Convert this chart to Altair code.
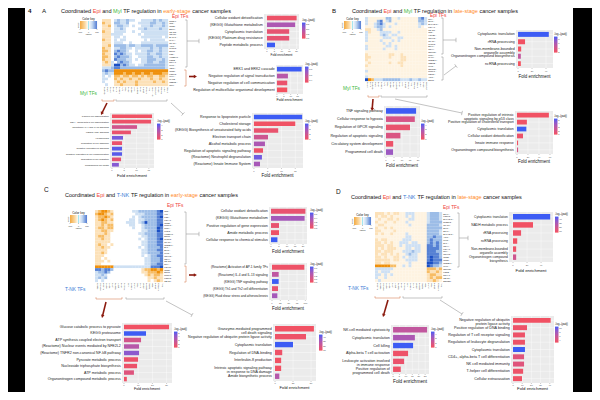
import math
import altair as alt
import pandas as pd

# ============================ DATA ============================
# ---- Panel A: Epi x Myl, early stage ----
A1_TERMS = ["Cellular oxidant detoxification", "(KEGG) Glutathione metabolism", "Cytoplasmic translation",
            "(KEGG) Platinum drug resistance", "Peptide metabolic process"]
A1_FOLD = [20.0, 19.0, 15.0, 15.0, 5.4]
A1_LOGP = [1.1, 1.9, 1.2, 1.2, 2.6]

A2_TERMS = ["ERK1 and ERK2 cascade", "Negative regulation of signal transduction",
            "Negative regulation of cell communication", "Regulation of multicellular organismal development"]
A2_FOLD = [18.0, 8.0, 7.5, 7.5]
A2_LOGP = [1.9, 1.6, 1.35, 1.3]

A3_TERMS = ["T-helper cell differentiation", "CD4+, alpha-beta T cell differentiation",
            "(Reactome) IL-4 and IL-13 signaling", "(KEGG) TNF signaling", "Hemopoiesis",
            "Regulation of cell adhesion", "Negative regulation of signaling",
            "Negative regulation of cell communication", "Regulation of cell migration", "Programmed cell death"]
A3_FOLD = [16.3, 15.9, 10.2, 7.7, 4.5, 4.1, 4.1, 4.1, 3.7, 2.8]
A3_LOGP = [1.1, 1.2, 2.0, 1.3, 3.7, 1.3, 4.0, 4.0, 1.4, 3.5]

A4_TERMS = ["Response to lipoprotein particle", "Cholesterol storage",
            "(KEGG) Biosynthesis of unsaturated fatty acids", "Electron transport chain",
            "Alcohol metabolic process", "Regulation of apoptotic signaling pathway",
            "(Reactome) Neutrophil degranulation", "(Reactome) Innate Immune System"]
A4_FOLD = [17.5, 15.0, 8.8, 5.1, 4.0, 3.3, 2.9, 2.2]
A4_LOGP = [4.0, 1.1, 1.3, 2.0, 2.7, 1.2, 3.6, 2.8]

# ---- Panel B: Epi x Myl, late stage ----
B1_TERMS = ["Cytoplasmic translation", "rRNA processing", "Non-membrane-bounded\norganelle assembly",
            "Organonitrogen compound biosynthesis", "ncRNA processing"]
B1_FOLD = [44.0, 10.0, 4.5, 4.0, 4.0]
B1_LOGP = [9.0, 2.2, 2.1, 5.0, 2.0]

B2_TERMS = ["TNF signaling pathway", "Cellular response to hypoxia", "Regulation of GPCR signaling",
            "Regulation of apoptotic signaling", "Circulatory system development", "Programmed cell death"]
B2_FOLD = [18.8, 18.0, 15.0, 9.0, 4.5, 4.4]
B2_LOGP = [4.0, 1.8, 1.3, 1.7, 1.2, 3.0]

B3_TERMS = ["Positive regulation of intrinsic\napoptotic signaling by p53 class",
            "Positive regulation of cholesterol transport", "Cytoplasmic translation",
            "Cellular oxidant detoxification", "Innate immune response", "Organonitrogen compound biosynthesis"]
B3_FOLD = [58.0, 18.0, 17.0, 11.0, 2.0, 2.0]
B3_LOGP = [1.1, 1.2, 5.0, 1.3, 1.1, 2.0]

# ---- Panel C: Epi x T-NK, early stage ----
C1_TERMS = ["Cellular oxidant detoxification", "(KEGG) Glutathione metabolism",
            "Positive regulation of gene expression", "Amide metabolic process",
            "Cellular response to chemical stimulus"]
C1_FOLD = [21.5, 21.0, 5.0, 5.0, 4.0]
C1_LOGP = [0.9, 1.35, 0.9, 0.85, 1.7]

C2_TERMS = ["(Reactome) Activation of AP-1 family TFs", "(Reactome) IL-4 and IL-13 signaling",
            "(KEGG) TNF signaling pathway", "(KEGG) Th1 and Th2 cell differentiation",
            "(KEGG) Fluid shear stress and atherosclerosis"]
C2_FOLD = [97.0, 20.0, 20.0, 18.0, 16.0]
C2_LOGP = [0.85, 1.2, 1.7, 0.9, 1.35]

C3_TERMS = ["Glucose catabolic process to pyruvate", "KEGG proteasome",
            "ATP synthesis coupled electron transport", "(Reactome) Nuclear events mediated by NFE2L2",
            "(Reactome) TNFR2 non-canonical NF-kB pathway", "Pyruvate metabolic process",
            "Nucleoside triphosphate biosynthesis", "ATP metabolic process",
            "Organonitrogen compound metabolic process"]
C3_FOLD = [31.7, 15.5, 12.0, 10.6, 10.6, 9.9, 9.2, 7.0, 2.0]
C3_LOGP = [1.1, 5.0, 2.2, 3.0, 4.0, 1.3, 1.3, 1.8, 1.2]

C4_TERMS = ["Granzyme-mediated programmed\ncell death signaling",
            "Negative regulation of ubiquitin protein ligase activity", "Cytoplasmic translation",
            "Regulation of DNA-binding", "Interleukin-8 production",
            "Intrinsic apoptotic signaling pathway\nin response to DNA damage", "Amide biosynthetic process"]
C4_FOLD = [54.0, 43.0, 25.0, 10.0, 8.5, 8.5, 6.0]
C4_LOGP = [11.0, 12.0, 45.0, 12.0, 11.0, 11.0, 28.0]

# ---- Panel D: Epi x T-NK, late stage ----
D1_TERMS = ["Cytoplasmic translation", "NADH metabolic process", "rRNA processing", "ncRNA processing",
            "Non-membrane-bounded\norganelle assembly", "Organonitrogen compound\nbiosynthesis"]
D1_FOLD = [53.0, 28.5, 11.5, 6.0, 4.5, 4.5]
D1_LOGP = [45.0, 6.0, 7.0, 6.0, 7.0, 18.0]

D2_TERMS = ["NK cell mediated cytotoxicity", "Cytoplasmic translation", "Cell killing",
            "Alpha-beta T cell activation", "Leukocyte activation involved\nin immune response",
            "Positive regulation of\nprogrammed cell death"]
D2_FOLD = [26.5, 17.0, 15.6, 11.7, 8.6, 6.0]
D2_LOGP = [2.5, 3.0, 4.5, 1.2, 1.3, 1.2]

D3_TERMS = ["Negative regulation of ubiquitin\nprotein ligase activity", "Positive regulation of DNA binding",
            "Regulation of T cell receptor signaling", "Regulation of leukocyte degranulation",
            "Cytoplasmic translation", "CD4+, alpha-beta T cell differentiation", "NK cell mediated immunity",
            "T-helper cell differentiation", "Cellular extravasation"]
D3_FOLD = [41.0, 15.2, 13.0, 13.0, 13.0, 12.0, 12.0, 11.0, 9.8]
D3_LOGP = [2.7, 3.0, 3.0, 3.0, 10.5, 4.0, 4.0, 3.0, 2.8]

# ---- heatmaps (one character per cell; see HEAT_LEVEL) ----
HEAT_LEVEL = {"O": -95, "o": -55, "c": -24, ",": -10, ".": 0, "l": 28, "b": 52, "B": 78, "D": 100}
KEY_TICKS = [-100, 0, 100]

A_ROWS = ["NR2F6", "JUN", "JUNB", "BCL3", "TEAD2", "SOX30", "BACH1", "MAFA", "STAT1", "ATF3", "TFCP2",
          "EGR1", "FOS", "HMBOX1", "FOSB", "NR4A1", "KLF6", "XBP1", "JUND", "FOSL2", "KLF4", "MAFB",
          "CEBPD", "IRF1"]
A_COLS = ["CEBPB", "SPI1", "MAFB", "IRF8", "KLF4", "NR4A1", "JUN", "FOS", "ATF3", "EGR1", "MAF", "CEBPA",
          "IRF5", "STAT1", "NFKB1", "REL", "BHLHE40", "ZNF331", "ETV5", "PPARG", "MITF", "TFEC"]
A_CELLS = [
    "ccc.lbllbll..llllblbll", "occ.bbllb...llllbbllbl", "cco.lbbll.l..lllblllbl", "ccc.llbl....llbllllbll",
    "occ.llll..l..lllllllll", "cccllll.....l.llllllll", "ccc.ll.l.....lllllll.l", "occ.l.ll......l.lllll.",
    "ccc.lll..l...lllllllll", "cco.bbbblbbllbbbblbbbb", "occ.llbbll.lllllbllbll", "ooc.bBbbl..l.llbbllbll",
    "occ.BbBbll.llllbllbbll", "ooc.bBbbbl..lllbbllbll", "occ.Bbbbll.l.llbbbllbl", "cocl.bBbbl...llbbllbbl",
    "ccclDDbBbll.llbbbbbbbl", "lllbBBbbbbbbbbbbbbbbbl", "bBbbOOOOOOOOOOOOOOOOOO", "lbllOOOoOOoOOoOOoOOOoo",
    "l.l.oocoocoococooccooc", "ll..ococcoccocccoccocc", "l...cococccocccccoccoc", ".l..ccoccccocccccccccc",
]

B_ROWS = ["NFIA", "ELF3", "BHLHE40", "FOXA1", "TEAD1", "JUN", "HOXB7", "GRHL2", "STAT1", "TFCP2", "ETV6",
          "SOX4", "ZNF331", "PURA", "MAFF", "SREBF1", "CEBPB", "KLF5", "ZNF275", "RUNX1", "MEIS1", "ATF3",
          "EGR1"]
B_COLS = ["MAFB", "KLF4", "CEBPB", "SPI1", "IRF8", "NR4A1", "JUN", "FOS", "EGR1", "ATF3", "CEBPD", "IRF5",
          "MAF", "STAT1", "NFKB1", "REL", "PPARG", "TFEC", "MITF", "ETV5", "ZNF331"]
B_CELLS = [
    "l,,,,,,bb,,l,,,,,,bBl", "l,,,bB,lb,,,,,,,,,bbl", "l,,lbBl,,,l,,,,,,,lbl", ",,,lbbl,l,,,,,,,,,l,",
    "cc,,lb,,,,,,,,,,,,,,,", "lc,,,llll,,l,,,,,,,,,", "l,,,,lbl,ll,,,,,,,,,,", "l,,,,,lll,,ll,,,,,,,,",
    "l,,,,l,,,l,l,,,,,,,,,", ",,,,,,l,l,,,,,,,,,,,,", "l,,,,,,ll,l,,,,,,,,,,", "l,,,,,l,,,l,,,,,,,,,,",
    ",,,,,,,,,,,,,,,,,,,,,", "c,,,,,,,cc,,c,,,,,,,,", "cc,,,,,,c,,,cc,,,,,,,", "c,,,,,,,,,,,cc,,,,,,,",
    ",c,,,,,,c,,cc,,,,,,,,", "c,,,,,,,,,,,c,,,,,,,,", ",,,,,,,,,,,,,,,,,,,,,", "l,,,,,,,,,,,,,,,,,,,,",
    ",,,,,,,,,,,,,,,,,,,,,", "l,,,,,,,,,,,,,,,,,,,,", "DOolllbbbbbblllbllbll",
]

C_ROWS = ["JUN", "HLF", "FOS", "FOXA1", "JUNB", "RUNX3", "PURA", "IKZF2", "HMBOX1", "EGR1", "TFCP2",
          "STAT6", "SREBF1", "BX1", "ELF3", "KLF5", "GRHL2", "SOX4", "TEAD1", "NFIA", "FOXP1", "JUND",
          "EGR1", "RUNX3", "FOSL2", "TBX21"]
C_COLS = ["TBX21", "EOMES", "RUNX3", "IKZF2", "TCF7", "LEF1", "FOXP3", "BATF", "IRF4", "PRDM1", "ID2",
          "NR4A2", "JUNB", "FOS", "KLF2", "ZEB2", "GATA3", "RORC", "TOX", "STAT4", "NFATC1", "REL"]
C_CELLS = [
    "coOOoc......llbbbbbbBD", "oOOoco.......lllbbbbBB", "cooOoc......l.lbbbbbBD", "coOoco.....ll.llbbbbBB",
    "ccoocc....lll.lbDbbbBB", "ccocoo.....ll..lbbbbBD", "coocoo......l..lbbbbDB", "ccoocc.........llbbbDB",
    "cccoc.........llbbbbBB", "coocc..........llbbbBB", "ccocc.........l.lbbbBD", "ccccc..........llbbbBB",
    "cocc.c.........llbbbBB", "ccocc.........l.lbbbbB", "cccc...........llbbbBB", "ccoc...........llbbbbB",
    "ccc............l.lbbBB", "cc.c............llbbbB", "ccc.c...........llbbbB", "cc..............llbbBB",
    "OOOOOOllllllllllllBBBD", "BBbBBb.........cooOOoO", "lbbBb..........ccoooOo", "llbl............cocooc",
    "lblb.............ccocc", "l.l..............c.coc",
]

D_ROWS = ["ETV6", "FOSL2", "BHLHE40", "NFE2L2", "STAT3", "ELF3", "ETV1", "BHLHE41", "ATF3", "KLF5", "EHF",
          "SOX4", "FOXA1", "NFIA", "GRHL2", "JUNB", "JUND", "SREBF1", "KLF6", "ZNF683", "FOSB", "NR4A1",
          "TBX21", "EOMES"]
D_COLS = ["RUNX3", "TBX21", "EOMES", "IKZF2", "TCF7", "LEF1", "BATF", "FOXP3", "IRF4", "PRDM1", "ID2",
          "NR4A2", "KLF2", "ZEB2", "GATA3", "RORC", "TOX", "JUNB", "FOS", "STAT4", "NFATC1", "REL"]
D_CELLS = [
    "ccc,c,cc,,lll,,,,lbbbl", "c,cc,c,,,,l,l,,,,lbbbl", ",c,,cc,c,,,ll,,,,lbbbl", "c,,c,,c,,,l,,,,,,lbbbb",
    ",cc,,,,,,,,l,,,,,bbbbl", "c,,c,c,,,,,,,,,,,bbbbb", "cc,,,,c,,,,,,,,,,bbbbl", "c,c,,c,,,,l,,,,,,bbbbl",
    ",,,,,,,,,,ll,,,,,bbBbb", "c,cc,,,,,lll,,,,,bBbbb", "cc,c,c,,lll,ll,,,bBbBb", "ccc,cc,,l,lllll,,BBbBb",
    "c,c,ccc,,,ll,ll,,BBBBb", "cc,ccc,,,lllbll,,BBBbb", "c,cc,c,c,,lbll,,,BBBBb", "cc,c,,cc,l,lll,,,BDBBb",
    "ccccc,cc,,llll,,,BDBBB", "cc,cc,,,,,,l,,,,,DDBBb", "OOOOOoo,,l,l,,,,,DBbbl", "llllll,,,,,,,,,,,oooco",
    "l,lll,,,,,,,,,,,,occoc", "ll,l,l,,,,,,,,,,,coocc", "l,,l,,,,,,,,,,,,,cocoo", ",l,,,,,,,,,,,,,,,ccoc,",
]

# ============================ STYLE / LAYOUT ============================
FONT = "Liberation Sans"
OFF = 8
BAR_RED, BAR_BLUE = "#F4515F", "#3D5CF4"
HEAT_DOMAIN = [-100, -45, 0, 45, 100]
HEAT_RANGE = ["#EE8B00", "#F9C77A", "#FFFFFF", "#B0CDEC", "#1A4FC4"]
T_RED, T_GREEN, T_BLUE, T_ORANGE = "#F0443A", "#3DB83D", "#3A7BD5", "#FF8A1F"
GRAY, ORNG, DARKRED = "#9A9A9A", "#D9835A", "#8B1A0E"

AW = {" ": 278, "!": 278, "(": 333, ")": 333, "+": 584, ",": 278, "-": 333, ".": 278, "/": 278, ":": 278,
      "A": 667, "B": 667, "C": 722, "D": 722, "E": 667, "F": 611, "G": 778, "H": 722, "I": 278, "J": 500,
      "K": 667, "L": 556, "M": 833, "N": 722, "O": 778, "P": 667, "Q": 778, "R": 722, "S": 667, "T": 611,
      "U": 722, "V": 667, "W": 944, "X": 667, "Y": 667, "Z": 611, "a": 556, "b": 556, "c": 500, "d": 556,
      "e": 556, "f": 278, "g": 556, "h": 556, "i": 222, "j": 222, "k": 500, "l": 222, "m": 833, "n": 556,
      "o": 556, "p": 556, "q": 556, "r": 333, "s": 500, "t": 278, "u": 556, "v": 500, "w": 722, "x": 500,
      "y": 500, "z": 500}


def tw(s, fs):
    return sum(AW.get(ch, 556) for ch in s) * fs / 1000.0


def P(v):
    return v - OFF


def lin(lo, hi, a, b):
    return alt.Scale(domain=[lo, hi], range=[P(a), P(b)], nice=False, zero=False)


def heat_scale():
    return alt.Scale(domain=HEAT_DOMAIN, range=HEAT_RANGE, interpolate="rgb")


layers = []


def text(X, Y, s, fs, color="#111111", align="left", weight="normal", angle=0):
    d = pd.DataFrame({"t": [s]})
    return alt.Chart(d).mark_text(align=align, baseline="middle", fontSize=fs, color=color,
                                  fontWeight=weight, font=FONT, angle=angle).encode(
        x=alt.value(P(X)), y=alt.value(P(Y)), text="t:N")


def rich(X, Y, segs, width):
    full = "".join(s for s, _ in segs)
    fs = width / tw(full, 1.0)
    cur = X
    for s, col in segs:
        lead = len(s) - len(s.lstrip(" "))
        layers.append(text(cur + tw(s[:lead], fs), Y, s.strip(), fs, col))
        cur += tw(s, fs)


def bar_panel(terms, fold, logp, box, xdom, ticks, cdom, leg, ref, fe_w, tick_y, fe_y):
    X0, X1, Y0, Y1 = box
    lo, hi = xdom
    n = len(terms)
    xs = lin(lo, hi, X0, X1)
    ys = lin(-0.6, n - 0.4, Y0, Y1)
    upp = n / float(Y1 - Y0)
    fs = ref[1] / tw(ref[0], 1.0)

    def X(f):
        return alt.X(f, scale=xs, axis=None)

    def Y(f):
        return alt.Y(f, scale=ys, axis=None)

    d = pd.DataFrame({"term": terms, "fold": fold, "logp": logp})
    d["i"] = list(range(n))
    d["z"] = 0.0
    d["b0"] = d["i"] - 0.34
    d["b1"] = d["i"] + 0.34
    d["xl"] = lo
    d["xh"] = hi
    bg = pd.DataFrame({"xl": [lo], "xh": [hi], "ya": [-0.6], "yb": [n - 0.4]})
    td = pd.DataFrame({"t": ticks, "lab": [str(t) for t in ticks]})
    td["ya"] = -0.6
    td["yb"] = n - 0.4
    td["yc"] = n - 0.4 + 0.9 * upp
    td["yl"] = n - 0.4 + (tick_y - Y1) * upp
    at = pd.DataFrame({"x": [(lo + hi) / 2.0], "y": [n - 0.4 + (fe_y - Y1) * upp], "t": ["Fold enrichment"]})
    fe_fs = fe_w / tw("Fold enrichment", 1.0)

    layers.append(alt.Chart(bg).mark_rect(color="#EBEBEB").encode(
        x=X("xl:Q"), x2="xh:Q", y=Y("ya:Q"), y2="yb:Q"))
    layers.append(alt.Chart(td).mark_rule(color="white", strokeWidth=0.4).encode(
        x=X("t:Q"), y=Y("ya:Q"), y2="yb:Q"))
    layers.append(alt.Chart(d).mark_rule(color="white", strokeWidth=0.4).encode(
        x=X("xl:Q"), x2="xh:Q", y=Y("i:Q")))
    layers.append(alt.Chart(d).mark_rect().encode(
        x=X("z:Q"), x2="fold:Q", y=Y("b0:Q"), y2="b1:Q",
        color=alt.Color("logp:Q",
                        scale=alt.Scale(domain=cdom, range=[BAR_RED, BAR_BLUE], interpolate="lab"),
                        legend=alt.Legend(type="gradient", orient="none", legendX=P(leg[0]), legendY=P(leg[1]),
                                          title="-log\u2081\u2080(padj)", titleFontSize=2.6,
                                          titleFontWeight="normal", titleFont=FONT, titlePadding=1,
                                          titleColor="#111111", labelFontSize=2.2, labelFont=FONT,
                                          labelOffset=0.8, labelColor="#333333", gradientLength=16,
                                          gradientThickness=3.5, direction="vertical", padding=0,
                                          tickCount=4, gradientStrokeWidth=0))))
    layers.append(alt.Chart(d).mark_text(align="right", baseline="middle", dx=-1.2, fontSize=fs,
                                         lineBreak="\n", lineHeight=fs * 1.1, font=FONT,
                                         color="#222222").encode(
        x=X("xl:Q"), y=Y("i:Q"), text="term:N"))
    layers.append(alt.Chart(td).mark_rule(color="#333333", strokeWidth=0.3).encode(
        x=X("t:Q"), y=Y("yb:Q"), y2="yc:Q"))
    layers.append(alt.Chart(td).mark_text(baseline="middle", fontSize=2.3, font=FONT,
                                          color="#4D4D4D").encode(
        x=X("t:Q"), y=Y("yl:Q"), text="lab:N"))
    layers.append(alt.Chart(at).mark_text(baseline="middle", fontSize=fe_fs, font=FONT,
                                          color="#111111").encode(
        x=X("x:Q"), y=Y("y:Q"), text="t:N"))


def color_key(kx, ky):
    """Colour key of a heatmap: a strip coloured through the heatmap's own colour scale."""
    steps = list(range(-100, 100, 4))
    d = pd.DataFrame({"a": steps, "b": [s + 4.4 for s in steps], "v": [s + 2 for s in steps]})
    d["y0"] = 0.0
    d["y1"] = 1.0
    xs = lin(-100, 100, kx, kx + 17)
    ys = lin(0, 1, ky, ky + 8)
    layers.append(alt.Chart(d).mark_rect().encode(
        x=alt.X("a:Q", scale=xs, axis=None), x2="b:Q", y=alt.Y("y0:Q", scale=ys, axis=None), y2="y1:Q",
        color=alt.Color("v:Q", scale=heat_scale(), legend=None)))
    cy = pd.DataFrame({"x": [0.0], "y0": [0.0], "y1": [1.0]})
    layers.append(alt.Chart(cy).mark_rule(color="#20C8E0", strokeWidth=0.4).encode(
        x=alt.X("x:Q", scale=xs, axis=None), y=alt.Y("y0:Q", scale=ys, axis=None), y2="y1:Q"))
    kt = pd.DataFrame({"t": KEY_TICKS, "lab": [str(t) for t in KEY_TICKS]})
    kt["y"] = 1.0
    kt["y2"] = 1.0 + 1.0 / 8
    kt["yl"] = 1.0 + 2.6 / 8
    layers.append(alt.Chart(kt).mark_rule(color="#333333", strokeWidth=0.3).encode(
        x=alt.X("t:Q", scale=xs, axis=None), y=alt.Y("y:Q", scale=ys, axis=None), y2="y2:Q"))
    layers.append(alt.Chart(kt).mark_text(baseline="middle", fontSize=2.2, font=FONT, color="#333333").encode(
        x=alt.X("t:Q", scale=xs, axis=None), y=alt.Y("yl:Q", scale=ys, axis=None), text="lab:N"))
    layers.append(text(kx + 8.5, ky - 2.2, "Color key", 3.0, align="center"))
    layers.append(text(kx - 2.5, ky + 4, "Count", 2.2, angle=270, align="center"))
    layers.append(text(kx + 8.5, ky + 13.5, "Value", 2.5, align="center"))


def heatmap(cells, rlabels, clabels, box, key, fs=2.1):
    X0, X1, Y0, Y1 = box
    nr, nc = len(rlabels), len(clabels)
    recs = []
    for r, row in enumerate(cells[:nr]):
        row = (row + "." * nc)[:nc]
        for c, ch in enumerate(row):
            recs.append({"c": c, "c2": c + 1.04, "r": r, "r2": r + 1.04, "v": HEAT_LEVEL[ch]})
    xs = lin(0, nc, X0, X1)
    ys = lin(0, nr, Y0, Y1)
    layers.append(alt.Chart(pd.DataFrame(recs)).mark_rect().encode(
        x=alt.X("c:Q", scale=xs, axis=None), x2="c2:Q",
        y=alt.Y("r:Q", scale=ys, axis=None), y2="r2:Q",
        color=alt.Color("v:Q", scale=heat_scale(), legend=None)))
    rl = pd.DataFrame({"t": [s + " -" for s in rlabels], "y": [r + 0.5 for r in range(nr)], "x": [nc] * nr})
    layers.append(alt.Chart(rl).mark_text(align="left", baseline="middle", dx=1.2, fontSize=fs,
                                          font=FONT, color="#222222").encode(
        x=alt.X("x:Q", scale=xs, axis=None), y=alt.Y("y:Q", scale=ys, axis=None), text="t:N"))
    cl = pd.DataFrame({"t": clabels, "x": [c + 0.5 for c in range(nc)], "y": [nr] * nc})
    layers.append(alt.Chart(cl).mark_text(align="right", baseline="middle", dx=-1.2, angle=270,
                                          fontSize=fs, font=FONT, color="#222222").encode(
        x=alt.X("x:Q", scale=xs, axis=None), y=alt.Y("y:Q", scale=ys, axis=None), text="t:N"))
    color_key(*key)


# ---------------- decorations (brackets, connectors, arrows) ----------------
SEGS, TRIS = [], []


def bracket_v(x, y1, y2, col):
    SEGS.extend([(x, y1, x, y2, col, 0.6), (x - 1.8, y1, x, y1, col, 0.6), (x - 1.8, y2, x, y2, col, 0.6)])


def bracket_h(x1, x2, y, col):
    SEGS.extend([(x1, y, x2, y, col, 0.6), (x1, y - 1.8, x1, y, col, 0.6), (x2, y - 1.8, x2, y, col, 0.6)])


def tline(x1, y1, x2, y2):
    dx, dy = x2 - x1, y2 - y1
    L = math.hypot(dx, dy)
    px_, py_ = -dy / L, dx / L
    SEGS.append((x1, y1, x2, y2, GRAY, 0.6))
    SEGS.append((x2 + px_ * 2.2, y2 + py_ * 2.2, x2 - px_ * 2.2, y2 - py_ * 2.2, GRAY, 0.6))


def arrow(x1, y1, x2, y2):
    dx, dy = x2 - x1, y2 - y1
    L = math.hypot(dx, dy)
    ux, uy = dx / L, dy / L
    SEGS.append((x1, y1, x2 - ux * 2.5, y2 - uy * 2.5, DARKRED, 1.6))
    TRIS.append((x2 - ux * 1.6, y2 - uy * 1.6, math.degrees(math.atan2(dx, -dy)) % 360, DARKRED, 13))


# A
bracket_v(187, 20, 67, GRAY); tline(187, 41, 199, 41)
bracket_v(186, 70, 86, ORNG); arrow(189, 76.5, 197, 76.5)
bracket_h(102, 114, 101, ORNG); bracket_h(116, 167, 101, GRAY)
arrow(107, 103, 101, 115); tline(171, 103, 183, 114)
# B
bracket_v(443, 18, 54, GRAY); tline(443, 40, 456, 40)
bracket_v(443, 57, 80, GRAY); tline(444, 75, 456, 66)
bracket_h(368, 379, 97, ORNG); bracket_h(381, 427, 97, GRAY)
arrow(373, 99, 372, 111); tline(395, 99, 462, 113)
# C
bracket_v(186, 212, 264, GRAY); tline(186, 234, 199, 234)
bracket_v(186, 266, 282, ORNG); arrow(189, 275, 197, 275)
bracket_h(96, 122, 299, ORNG); bracket_h(126, 164, 299, GRAY)
arrow(106, 302, 102, 318); tline(166, 301, 192, 315)
# D
bracket_v(459, 213, 267, GRAY); tline(459, 238, 468, 238)
bracket_h(375, 400, 298, ORNG); bracket_h(403, 442, 298, GRAY)
arrow(388, 300, 383, 317); tline(440, 300, 462, 314)

# black side strips of the page scan
blk = pd.DataFrame({"x": [P(8), P(573)], "x2": [P(25), P(592)], "y": [P(8), P(8)], "y2": [P(392), P(392)]})
layers.append(alt.Chart(blk).mark_rect(color="black").encode(
    x=alt.X("x:Q", scale=None, axis=None), x2="x2:Q", y=alt.Y("y:Q", scale=None, axis=None), y2="y2:Q"))

# ---------------- titles ----------------
TOP_Y = 11.2
layers.append(text(28, TOP_Y, "4", 6.2, weight="bold"))
layers.append(text(42, TOP_Y, "A", 6.2))
rich(61, TOP_Y, [("Coordinated ", "#111111"), ("Epi", T_RED), (" and ", "#111111"), ("Myl", T_GREEN),
                 (" TF regulation in ", "#111111"), ("early-stage", T_ORANGE), (" cancer samples", "#111111")], 170)
layers.append(text(332, TOP_Y, "B", 6.2))
rich(352, TOP_Y, [("Coordinated ", "#111111"), ("Epi", T_RED), (" and ", "#111111"), ("Myl", T_GREEN),
                  (" TF regulation in ", "#111111"), ("late-stage", T_ORANGE), (" cancer samples", "#111111")], 166)
layers.append(text(44, 190, "C", 6.5))
rich(65, 194.5, [("Coordinated ", "#111111"), ("Epi", T_RED), (" and ", "#111111"), ("T-NK", T_BLUE),
                 (" TF regulation in ", "#111111"), ("early-stage", T_ORANGE), (" cancer samples", "#111111")], 173)
layers.append(text(336, 192, "D", 6.5))
rich(351, 197, [("Coordinated ", "#111111"), ("Epi", T_RED), (" and ", "#111111"), ("T-NK", T_BLUE),
                (" TF regulation in ", "#111111"), ("late-stage", T_ORANGE), (" cancer samples", "#111111")], 171)

for (x, y, s, c) in [(172, 16.5, "Epi TFs", T_RED), (80, 94, "Myl TFs", T_GREEN),
                     (430, 16, "Epi TFs", T_RED), (343, 89, "Myl TFs", T_GREEN),
                     (167, 206, "Epi TFs", T_RED), (65, 290, "T-NK TFs", T_BLUE),
                     (443, 208, "Epi TFs", T_RED), (348, 289, "T-NK TFs", T_BLUE)]:
    layers.append(text(x, y, s, 4.8, c))

# ---------------- heatmaps ----------------
heatmap(A_CELLS, A_ROWS, A_COLS, (102, 168, 19, 86), (80, 21))
heatmap(B_CELLS, B_ROWS, B_COLS, (365, 427, 17, 81), (344, 21))
heatmap(C_CELLS, C_ROWS, C_COLS, (95, 163, 210, 282), (70, 215))
heatmap(D_CELLS, D_ROWS, D_COLS, (375, 442, 212, 282), (354, 217))

# ---------------- enrichment bar charts ----------------
bar_panel(A1_TERMS, A1_FOLD, A1_LOGP, (264, 299, 14, 49), (-2.0, 21.6), [0, 5, 10, 15, 20], [1.0, 2.6],
          (302, 19), ("Cellular oxidant detoxification", 48), 22, 51.5, 55.5)
bar_panel(A2_TERMS, A2_FOLD, A2_LOGP, (276, 303, 65, 94), (-0.7, 19.0), [0, 5, 10, 15], [1.3, 1.9],
          (305, 63), ("Regulation of multicellular organismal development", 82), 26, 96.5, 100.5)
bar_panel(A3_TERMS, A3_FOLD, A3_LOGP, (110, 154, 113, 168), (-0.8, 17.1), [0, 5, 10, 15], [1.0, 4.2],
          (157, 120), ("Negative regulation of cell communication", 43), 30, 170.5, 176)
bar_panel(A4_TERMS, A4_FOLD, A4_LOGP, (252, 303, 113, 168), (-0.7, 17.8), [0, 5, 10, 15], [1.0, 4.0],
          (305, 120), ("(KEGG) Biosynthesis of unsaturated fatty acids", 76), 32, 171, 176)
bar_panel(B1_TERMS, B1_FOLD, B1_LOGP, (516, 553, 30, 68), (-2.9, 50.0), [0, 20, 40], [2.0, 9.0],
          (554, 33), ("Organonitrogen compound biosynthesis", 64), 32, 71, 77)
bar_panel(B2_TERMS, B2_FOLD, B2_LOGP, (384, 420, 106, 157), (-1.25, 21.25), [0, 5, 10, 15, 20], [1.0, 4.0],
          (421, 120), ("Cellular response to hypoxia", 46), 32, 160, 166)
bar_panel(B3_TERMS, B3_FOLD, B3_LOGP, (515, 553, 111, 154), (-3.6, 65.5), [0, 20, 40, 60], [1.0, 5.0],
          (554, 115), ("Positive regulation of cholesterol transport", 66), 32, 157, 162.5)
bar_panel(C1_TERMS, C1_FOLD, C1_LOGP, (269, 307, 207, 244), (-1.25, 22.5), [0, 5, 10, 15, 20], [0.8, 1.7],
          (310, 209), ("Cellular response to chemical stimulus", 62), 32, 246.5, 252)
bar_panel(C2_TERMS, C2_FOLD, C2_LOGP, (269, 307, 263, 300), (-9.0, 105.0), [0, 25, 50, 75, 100], [0.8, 1.7],
          (310, 263), ("(KEGG) Fluid shear stress and atherosclerosis", 65), 32, 303, 309)
bar_panel(C3_TERMS, C3_FOLD, C3_LOGP, (122, 172, 323, 383), (-1.4, 33.8), [0, 10, 20, 30], [1.0, 5.0],
          (174, 328), ("(Reactome) TNFR2 non-canonical NF-kB pathway", 81), 26, 385.5, 389.5)
bar_panel(C4_TERMS, C4_FOLD, C4_LOGP, (273, 316, 324, 381), (-2.8, 56.9), [0, 25, 50], [10.0, 45.0],
          (319, 331), ("Negative regulation of ubiquitin protein ligase activity", 84), 30, 383.5, 388.5)
bar_panel(D1_TERMS, D1_FOLD, D1_LOGP, (509, 553, 212, 262), (-5.7, 57.0), [0, 20, 40], [5.0, 45.0],
          (555, 213), ("Organonitrogen compound", 39), 31, 265, 271)
bar_panel(D2_TERMS, D2_FOLD, D2_LOGP, (391, 429, 325, 374), (-1.6, 28.0), [0, 5, 10, 15, 20, 25], [1.0, 4.5],
          (431, 328), ("Alpha-beta T cell activation", 44), 34, 376.5, 382)
bar_panel(D3_TERMS, D3_FOLD, D3_LOGP, (511, 554, 316, 383), (-2.2, 44.6), [0, 10, 20, 30, 40], [2.5, 10.5],
          (555, 323), ("Regulation of leukocyte degranulation", 62), 31, 385.5, 389.5)

# connectors on top
seg_df = pd.DataFrame([(P(a), P(b), P(c), P(d), col, w) for (a, b, c, d, col, w) in SEGS],
                      columns=["x", "y", "x2", "y2", "c", "w"])
layers.append(alt.Chart(seg_df).mark_rule(strokeCap="butt").encode(
    x=alt.X("x:Q", scale=None, axis=None), y=alt.Y("y:Q", scale=None, axis=None), x2="x2:Q", y2="y2:Q",
    color=alt.Color("c:N", scale=None), strokeWidth=alt.StrokeWidth("w:Q", scale=None)))
tri_df = pd.DataFrame([(P(a), P(b), ang, col, s) for (a, b, ang, col, s) in TRIS],
                      columns=["x", "y", "a", "c", "s"])
layers.append(alt.Chart(tri_df).mark_point(shape="triangle-up", filled=True, opacity=1, strokeWidth=0).encode(
    x=alt.X("x:Q", scale=None, axis=None), y=alt.Y("y:Q", scale=None, axis=None),
    angle=alt.Angle("a:Q", scale=None), color=alt.Color("c:N", scale=None), size=alt.Size("s:Q", scale=None)))

chart = alt.layer(*layers).resolve_scale(
    x="independent", y="independent", color="independent",
    size="independent", angle="independent", strokeWidth="independent"
).properties(
    width=584, height=384, padding=0, autosize=alt.AutoSizeParams(type="none"), background="white"
).configure(font=FONT).configure_view(stroke=None)

chart.save("out.html", embed_options={"renderer": "svg", "actions": False})
